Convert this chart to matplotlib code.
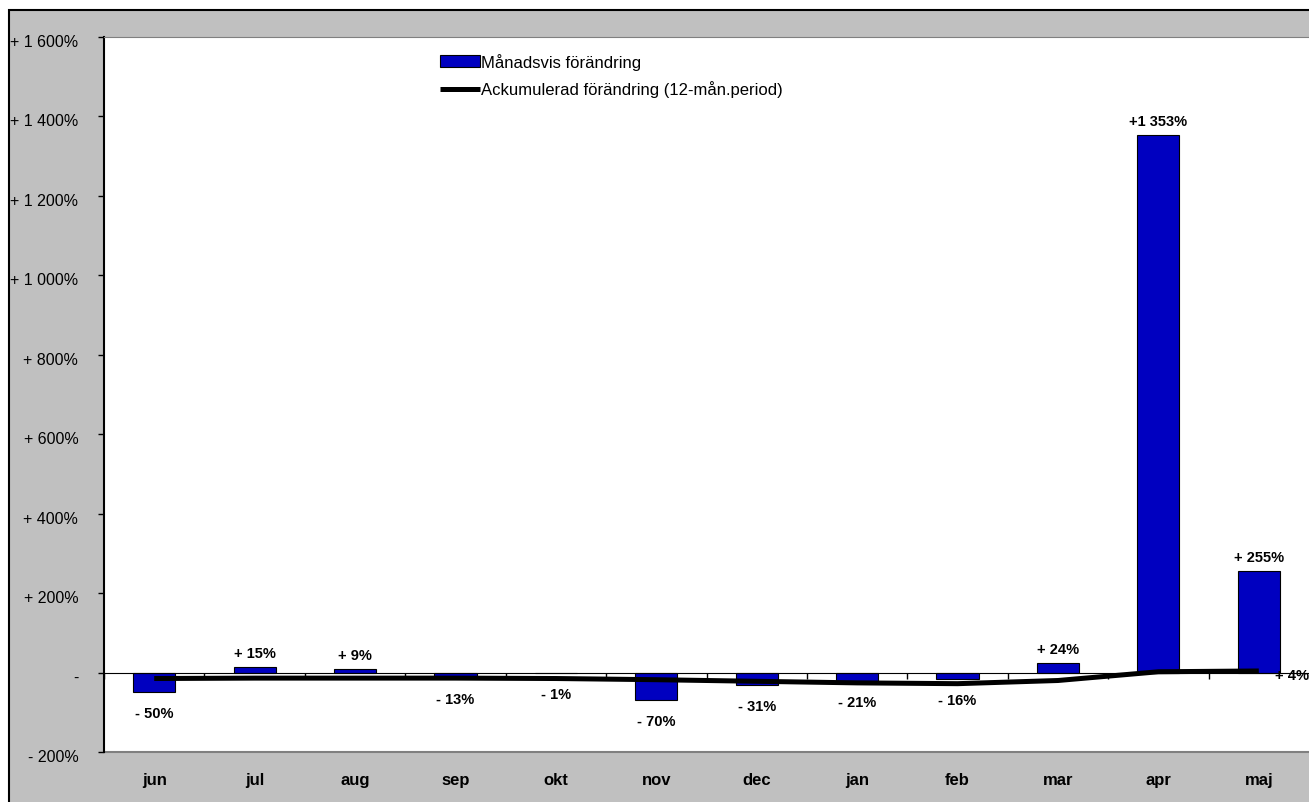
"""Monthly and accumulated change, bar + line chart"""
import numpy as np
import matplotlib.pyplot as plt
from matplotlib.patches import Rectangle
from matplotlib.transforms import blended_transform_factory, ScaledTranslation

plt.rcParams['font.family'] = ['Liberation Sans', 'DejaVu Sans']

months = ["jun", "jul", "aug", "sep", "okt", "nov",
          "dec", "jan", "feb", "mar", "apr", "maj"]
monthly = [-50, 15, 9, -13, -1, -70, -31, -21, -16, 24, 1353, 255]
monthly_labels = ["- 50%", "+ 15%", "+ 9%", "- 13%", "- 1%", "- 70%",
                  "- 31%", "- 21%", "- 16%", "+ 24%", "+1 353%", "+ 255%"]
accumulated = [-15, -14, -14, -14, -15, -18, -22, -26, -28, -20, 2, 4]
accumulated_last_label = "+ 4%"
y_ticks = [-200, 0, 200, 400, 600, 800, 1000, 1200, 1400, 1600]
y_tick_labels = ["- 200%", "-", "+ 200%", "+ 400%", "+ 600%", "+ 800%",
                 "+ 1 000%", "+ 1 200%", "+ 1 400%", "+ 1 600%"]

W, H = 1309, 803
fig = plt.figure(figsize=(W / 100, H / 100), dpi=100, facecolor="white")
# grey chart area with black border (extends past the picture edge)
fig.patches.append(Rectangle((9 / W, -0.1), 2, 1 - 11 / H + 0.1,
                             transform=fig.transFigure, facecolor="#c0c0c0",
                             edgecolor="black", linewidth=1.5, zorder=-1))

ax = fig.add_axes([104 / W, 50 / H, 1 - 104 / W, (753 - 38) / H])
ax.set_facecolor("white")

x = np.arange(len(months))
bars = ax.bar(x, monthly, width=0.42, color="#0000c0", edgecolor="black",
              linewidth=0.8, zorder=2)
line, = ax.plot(x, accumulated, color="black", linewidth=3.6,
                solid_capstyle="butt", zorder=3)

for xi, v, lab in zip(x, monthly, monthly_labels):
    if v >= 0:
        ax.annotate(lab, (xi, v), xytext=(0, 5), textcoords="offset points",
                    ha="center", va="bottom", fontsize=10.5,
                    fontweight="bold")
    else:
        ax.annotate(lab, (xi, v), xytext=(0, -10), textcoords="offset points",
                    ha="center", va="top", fontsize=10.5, fontweight="bold")
ax.annotate(accumulated_last_label, (x[-1], accumulated[-1]), xytext=(12, -3),
            textcoords="offset points", ha="left", va="center",
            fontsize=10.5, fontweight="bold", annotation_clip=False)

ax.set_xlim(-0.5, len(months) - 0.5)
ax.set_ylim(-200, 1600)
ax.set_yticks(y_ticks)
ax.set_yticklabels(y_tick_labels, fontsize=11.5)
ax.tick_params(axis="y", direction="out", length=4.5, width=1, pad=14)
shift = ScaledTranslation(0, -3 / 100, fig.dpi_scale_trans)
for lab in ax.get_yticklabels():
    lab.set_transform(lab.get_transform() + shift)

# x axis crosses at zero, ticks on category boundaries
ax.spines["bottom"].set_position(("data", 0))
ax.spines["bottom"].set_zorder(4)
ax.set_xticks(np.arange(len(months) + 1) - 0.5)
ax.set_xticklabels([])
ax.tick_params(axis="x", direction="out", length=4, width=1)
trans = blended_transform_factory(ax.transData, ax.transAxes)
for xi, m in zip(x, months):
    ax.text(xi, -0.038, m, transform=trans, ha="center", va="center",
            fontsize=12, fontweight="bold")

ax.spines["left"].set_linewidth(1.5)
ax.spines["top"].set_color("#808080")
ax.spines["right"].set_visible(False)
ax.plot([0, 1], [0, 0], transform=ax.transAxes, color="#808080",
        linewidth=1.5, clip_on=False)

ax.legend([bars, line], ["Månadsvis förändring",
                         "Ackumulerad förändring (12-mån.period)"],
          loc="upper left", bbox_to_anchor=(0.279, 0.978), frameon=False,
          fontsize=12, handlelength=2.4, handletextpad=0.05,
          labelspacing=0.65, borderaxespad=0, borderpad=0)

fig.savefig("out.png", dpi=100, facecolor=fig.get_facecolor())
